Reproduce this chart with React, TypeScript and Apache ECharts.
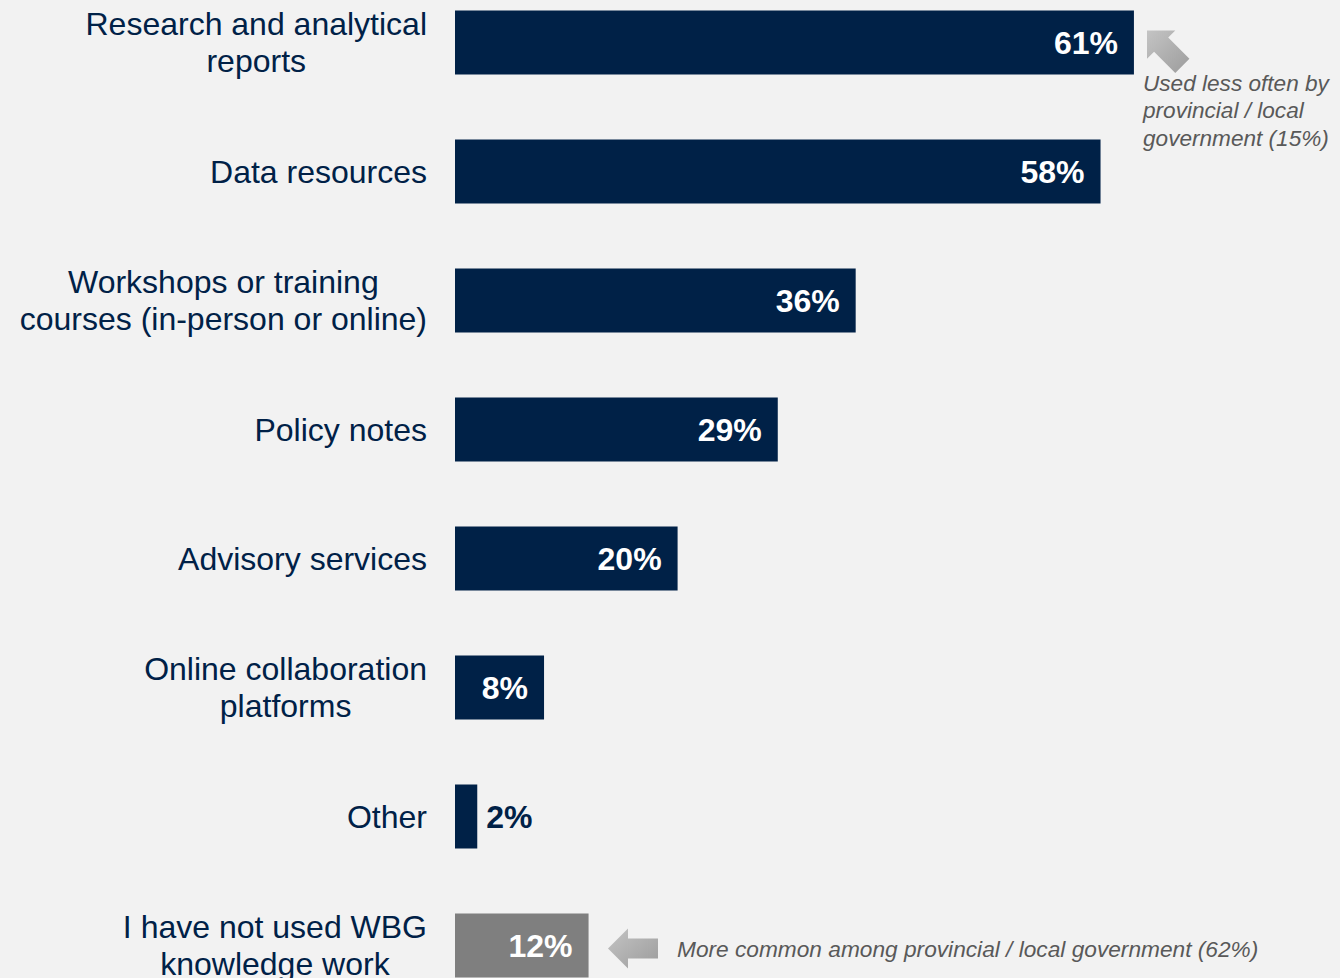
import React, { useEffect, useRef } from "react";
import * as echarts from "echarts";

const categories = [
  "Research and analytical\nreports",
  "Data resources",
  "Workshops or training\ncourses (in-person or online)",
  "Policy notes",
  "Advisory services",
  "Online collaboration\nplatforms",
  "Other",
  "I have not used WBG\nknowledge work",
];
const values = [61, 58, 36, 29, 20, 8, 2, 12];
const topNote = ["Used less often by", "provincial / local", "government (15%)"];
const bottomNote = "More common among provincial / local government (62%)";

const NAVY = "#002147";
const GREY_BAR = "#7f7f7f";
const FONT = "'Liberation Sans', Arial, sans-serif";
const OFFSET_Y = 22.5; // chart canvas starts above the visible page

function arrowPoints(tipX: number, tipY: number, angleDeg: number): number[][] {
  const base = [
    [0, 0],
    [20, -20],
    [20, -10],
    [50, -10],
    [50, 10],
    [20, 10],
    [20, 20],
  ];
  const a = (angleDeg * Math.PI) / 180;
  const c = Math.cos(a);
  const s = Math.sin(a);
  return base.map(([x, y]) => [tipX + x * c - y * s, tipY + OFFSET_Y + x * s + y * c]);
}

function arrowFill() {
  return new echarts.graphic.LinearGradient(0, 0, 1, 1, [
    { offset: 0, color: "#c4c4c4" },
    { offset: 1, color: "#9c9c9c" },
  ]);
}

export default function App() {
  const ref = useRef<HTMLDivElement>(null);

  useEffect(() => {
    if (!ref.current) return;
    const chart = echarts.init(ref.current, undefined, { renderer: "svg" });

    const data = values.map((v, i) => {
      const isLast = i === values.length - 1;
      const isSmall = v < 5;
      return {
        value: v,
        itemStyle: { color: isLast ? GREY_BAR : NAVY },
        label: isSmall
          ? { position: "right", distance: 9, color: NAVY }
          : { position: "insideRight", distance: 16, color: "#ffffff" },
      };
    });

    chart.setOption({
      animation: false,
      backgroundColor: "#f2f2f2",
      grid: { left: 455, top: 0, width: 1113, height: 1032, containLabel: false, outerBoundsMode: "none" },
      xAxis: {
        type: "value",
        min: 0,
        max: 100,
        show: false,
      },
      yAxis: {
        type: "category",
        data: categories,
        inverse: true,
        axisLine: { show: false },
        axisTick: { show: false },
        splitLine: { show: false },
        axisLabel: {
          margin: 28,
          align: "right",
          formatter: (v: string) =>
            v
              .split("\n")
              .map((l) => `{c|${l}}`)
              .join("\n"),
          rich: {
            c: {
              align: "center",
              fontSize: 32,
              lineHeight: 37,
              color: NAVY,
              fontFamily: FONT,
            },
          },
        },
      },
      series: [
        {
          type: "bar",
          data,
          barWidth: 64,
          label: {
            show: true,
            formatter: (p: any) => `${p.value}%`,
            fontSize: 32,
            fontWeight: "bold",
            fontFamily: FONT,
          },
        },
      ],
      graphic: [
        {
          type: "polygon",
          shape: { points: arrowPoints(1147, 30, 45) },
          style: { fill: arrowFill() },
        },
        {
          type: "text",
          x: 1143,
          y: 69 + OFFSET_Y,
          style: {
            text: topNote.join("\n"),
            font: `italic 22.6px ${FONT}`,
            fill: "#595959",
            lineHeight: 27.5,
            textAlign: "left",
            textVerticalAlign: "top",
          },
        },
        {
          type: "polygon",
          shape: { points: arrowPoints(608, 948, 0) },
          style: { fill: arrowFill() },
        },
        {
          type: "text",
          x: 677,
          y: 948 + OFFSET_Y,
          style: {
            text: bottomNote,
            font: `italic 22.7px ${FONT}`,
            fill: "#595959",
            textAlign: "left",
            textVerticalAlign: "middle",
          },
        },
      ],
    });

    return () => chart.dispose();
  }, []);

  return (
    <div style={{ position: "fixed", left: 0, top: 0, width: 1340, height: 978, overflow: "hidden", background: "#f2f2f2" }}>
      <div
        ref={ref}
        style={{ position: "absolute", left: 0, top: -OFFSET_Y, width: 1568, height: 1040 }}
      />
    </div>
  );
}
